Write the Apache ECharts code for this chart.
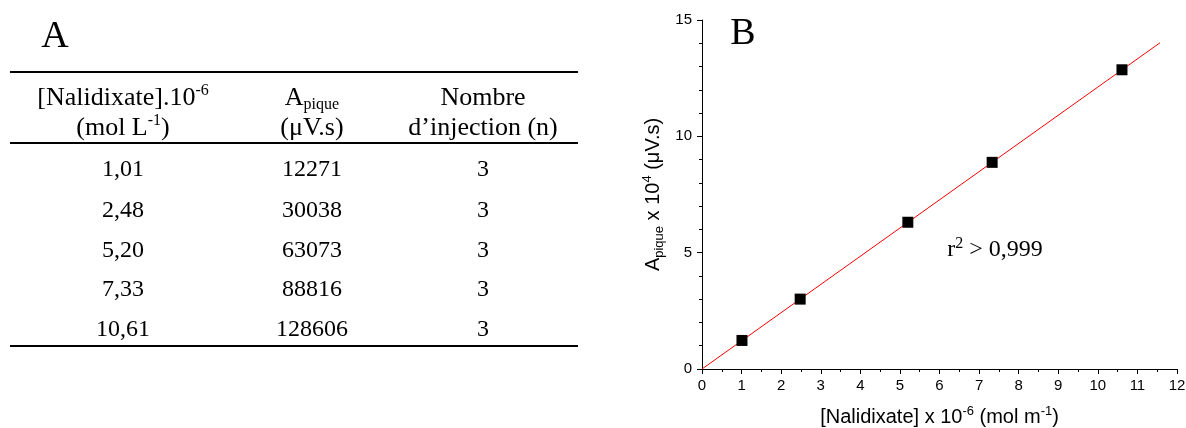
<!DOCTYPE html>
<html>
<head>
<meta charset="utf-8">
<script src="https://cdn.jsdelivr.net/npm/echarts@6/dist/echarts.min.js"></script>
<style>
html,body{margin:0;padding:0;background:#fff;}
#chart{width:1186px;height:428px;}
</style>
</head>
<body>
<div id="chart"></div>
<script>
// ---- Data ----
const panelA = 'A';
const panelB = 'B';
const headerLine1 = ['[Nalidixate].10{sup|-6}', 'A{sub|pique}', 'Nombre'];
const headerLine2 = ['(mol L{sup|-1})', '(μV.s)', 'd’injection (n)'];
const concLabels = ['1,01', '2,48', '5,20', '7,33', '10,61'];
const concValues = [1.01, 2.48, 5.20, 7.33, 10.61];
const areaValues = [12271, 30038, 63073, 88816, 128606];
const injections = [3, 3, 3, 3, 3];
const fitX = [0, 11.57];
const fitY = [0, 14.02];
const r2Text = 'r{sup|2} > 0,999';

// ---- Layout ----
const serif = '"Liberation Serif", "Times New Roman", serif';
const sans = '"Liberation Sans", Arial, sans-serif';
const colX = [123, 312, 483];
const rowY = [170, 211, 251, 290, 330];
const tableLeft = 10, tableRight = 578;

function supSub(size) {
  return {
    sup: { fontSize: size, fontFamily: serif, verticalAlign: 'top', lineHeight: size, fill: '#000' },
    sub: { fontSize: size, fontFamily: serif, verticalAlign: 'bottom', lineHeight: size, fill: '#000' }
  };
}

function txt(text, x, y, size, family, rich) {
  return {
    type: 'text', x: x, y: y, silent: true,
    style: {
      text: text, fill: '#000', fontSize: size, fontFamily: family,
      lineHeight: size + 4,
      align: 'center', verticalAlign: 'middle', rich: rich || {}
    }
  };
}
function hline(y, w) {
  return { type: 'line', silent: true, shape: { x1: tableLeft, y1: y, x2: tableRight, y2: y },
    style: { stroke: '#000', lineWidth: w } };
}

const graphics = [];
graphics.push(txt(panelA, 55, 37, 38, serif));
graphics.push(hline(72, 2));
graphics.push(hline(143, 2));
graphics.push(hline(346, 2));
for (let c = 0; c < 3; c++) {
  graphics.push(txt(headerLine1[c], colX[c], 98, 26, serif, supSub(16)));
  graphics.push(txt(headerLine2[c], colX[c], 128, 26, serif, supSub(16)));
}
for (let r = 0; r < concLabels.length; r++) {
  graphics.push(txt(concLabels[r], colX[0], rowY[r], 24, serif));
  graphics.push(txt(String(areaValues[r]), colX[1], rowY[r], 24, serif));
  graphics.push(txt(String(injections[r]), colX[2], rowY[r], 24, serif));
}
graphics.push(txt(panelB, 743, 34, 38, serif));
graphics.push(txt(r2Text, 995, 250, 24, serif, supSub(16)));

const scatterData = concValues.map((x, i) => [x, areaValues[i] / 10000]);
const lineData = fitX.map((x, i) => [x, fitY[i]]);

const nameRich = {
  sup: { fontFamily: sans, fontSize: 13, verticalAlign: 'top', lineHeight: 13, color: '#000' },
  sub: { fontFamily: sans, fontSize: 13, verticalAlign: 'bottom', lineHeight: 13, color: '#000' }
};

const chart = echarts.init(document.getElementById('chart'), null, { renderer: 'canvas' });
chart.setOption({
  animation: false,
  backgroundColor: '#fff',
  grid: { left: 702, right: 9, top: 20, bottom: 59, containLabel: false, outerBoundsMode: 'none' },
  xAxis: {
    type: 'value', min: 0, max: 12, interval: 1,
    name: '[Nalidixate] x 10{sup|-6} (mol m{sup|-1})',
    nameLocation: 'middle', nameGap: 36,
    nameTextStyle: { fontFamily: sans, fontSize: 20, lineHeight: 25, color: '#000', rich: nameRich },
    axisLine: { show: true, onZero: false, lineStyle: { color: '#000', width: 1 } },
    axisTick: { show: true, inside: false, length: 5, lineStyle: { color: '#000' } },
    minorTick: { show: true, splitNumber: 2, length: 3, lineStyle: { color: '#000' } },
    axisLabel: { color: '#000', fontFamily: sans, fontSize: 15, margin: 9 },
    splitLine: { show: false }
  },
  yAxis: {
    type: 'value', min: 0, max: 15, interval: 5,
    name: 'A{sub|pique} x 10{sup|4} (μV.s)',
    nameLocation: 'middle', nameGap: 36, nameRotate: 90,
    nameTextStyle: { fontFamily: sans, fontSize: 20, lineHeight: 25, color: '#000', rich: nameRich },
    axisLine: { show: true, onZero: false, lineStyle: { color: '#000', width: 1 } },
    axisTick: { show: true, inside: false, length: 5, lineStyle: { color: '#000' } },
    minorTick: { show: true, splitNumber: 5, length: 3, lineStyle: { color: '#000' } },
    axisLabel: { color: '#000', fontFamily: sans, fontSize: 15, margin: 10 },
    splitLine: { show: false }
  },
  series: [
    {
      type: 'line', data: lineData, symbol: 'none', silent: true,
      lineStyle: { color: '#ff0000', width: 1 }, z: 2
    },
    {
      type: 'scatter', data: scatterData, symbol: 'rect', symbolSize: 11,
      itemStyle: { color: '#000', opacity: 1 }, z: 3
    }
  ],
  graphic: graphics
});
</script>
</body>
</html>
